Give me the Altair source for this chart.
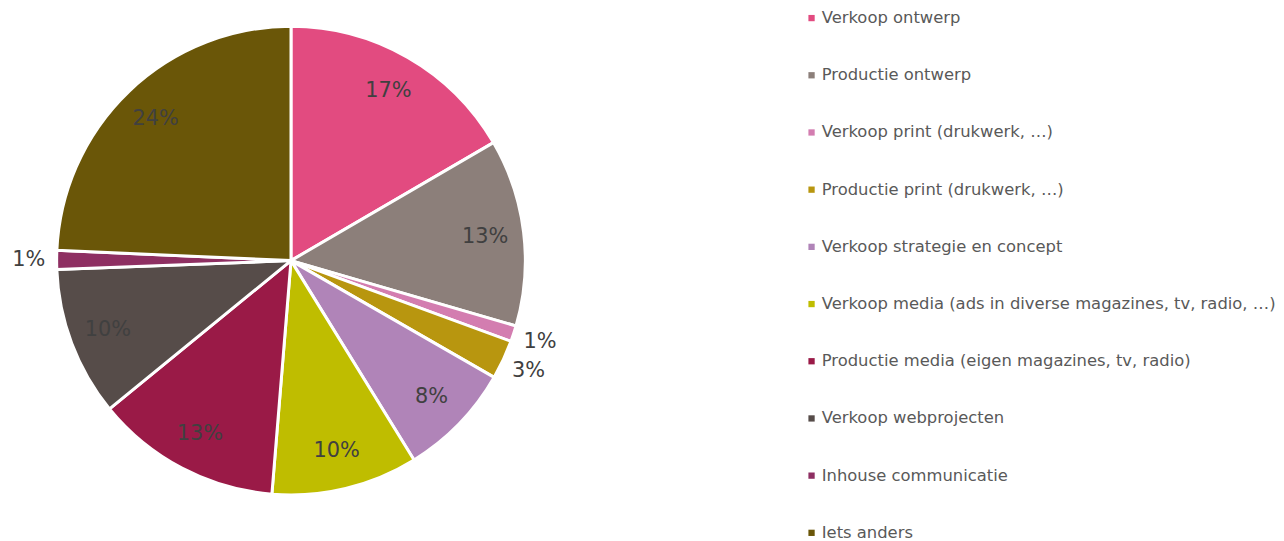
import altair as alt
import pandas as pd

categories = [
    "Verkoop ontwerp",
    "Productie ontwerp",
    "Verkoop print (drukwerk, …)",
    "Productie print (drukwerk, …)",
    "Verkoop strategie en concept",
    "Verkoop media (ads in diverse magazines, tv, radio, …)",
    "Productie media (eigen magazines, tv, radio)",
    "Verkoop webprojecten",
    "Inhouse communicatie",
    "Iets anders",
]
values = [16.6, 12.9, 1.1, 2.7, 7.9, 10.1, 12.8, 10.3, 1.3, 24.3]
colors = ["#E24B80", "#8C7F7A", "#D37DB0", "#B8960F", "#B084B8",
          "#BFBD00", "#9A1A47", "#564C49", "#8E2F62", "#6A5608"]

df = pd.DataFrame({
    "cat": categories,
    "val": values,
    "idx": list(range(len(categories))),
})
labels = [f"{round(v)}%" for v in values]
df["inner_label"] = [l if v >= 5 else "" for l, v in zip(labels, values)]
df["outer_label"] = [l if v < 5 else "" for l, v in zip(labels, values)]

base = alt.Chart(df).encode(
    theta=alt.Theta("val:Q", stack=True),
    order=alt.Order("idx:O", sort="ascending"),
)

color = alt.Color(
    "cat:N",
    sort=categories,
    scale=alt.Scale(domain=categories, range=colors),
    legend=alt.Legend(
        title=None,
        orient="none",
        legendX=801,
        legendY=0,
        symbolType="square",
        symbolSize=40,
        symbolStrokeWidth=0,
        labelFontSize=16.5,
        labelFont="DejaVu Sans",
        labelColor="#595959",
        labelLimit=700,
        rowPadding=40.6,
        labelOffset=2,
    ),
)

arcs = base.mark_arc(radius=236, stroke="white", strokeWidth=3).encode(color=color)

inner = base.mark_text(radius=197, fontSize=21, font="DejaVu Sans", color="#404040").encode(
    text=alt.Text("inner_label:N")
)

outer = base.mark_text(radius=264, fontSize=21, font="DejaVu Sans", color="#404040").encode(
    text=alt.Text("outer_label:N")
)

chart = alt.layer(arcs, inner, outer).properties(
    width=570, height=505, padding=0
).configure_view(stroke=None)

chart.save("out.html", embed_options={"renderer": "svg", "actions": False})
